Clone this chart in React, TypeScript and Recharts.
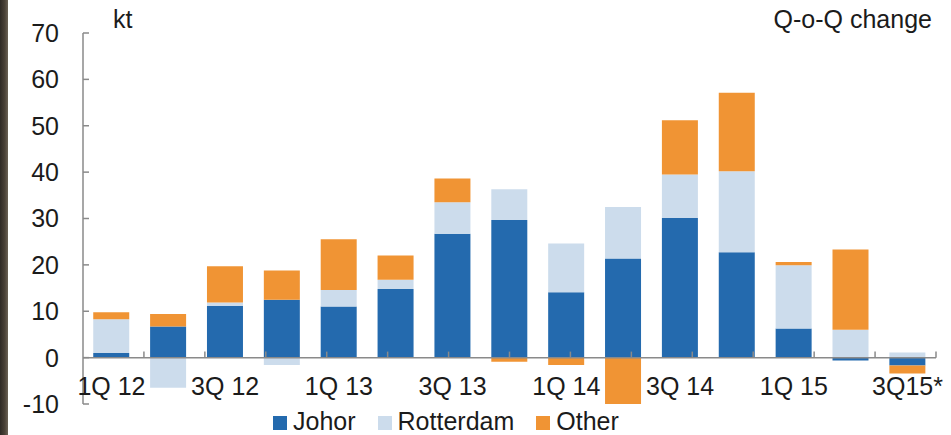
import { BarChart, Bar, XAxis, YAxis, ReferenceLine, Legend } from "recharts";

const QUARTERS = [
  "1Q 12", "2Q 12", "3Q 12", "4Q 12",
  "1Q 13", "2Q 13", "3Q 13", "4Q 13",
  "1Q 14", "2Q 14", "3Q 14", "4Q 14",
  "1Q 15", "2Q 15", "3Q15*",
];
const JOHOR = [1.0, 6.7, 11.2, 12.5, 11.0, 14.8, 26.7, 29.7, 14.1, 21.4, 30.1, 22.7, 6.3, -0.6, -1.7];
const ROTTERDAM = [7.3, -6.5, 0.7, -1.6, 3.6, 2.0, 6.8, 6.6, 10.5, 11.1, 9.4, 17.5, 13.6, 6.0, 1.1];
const OTHER = [1.5, 2.7, 7.8, 6.3, 10.9, 5.2, 5.1, -0.9, -1.6, -10.7, 11.7, 16.9, 0.7, 17.3, -1.7];
const SERIES_NAMES = ["Johor", "Rotterdam", "Other"];
const Y_TICKS = [-10, 0, 10, 20, 30, 40, 50, 60, 70];

const BLUE = "#246aae";
const LIGHT = "#ccdcec";
const ORANGE = "#f09434";
const AXIS = "#8a8a8a";
const TEXT = "#1b1b1b";
const FONT = '"Liberation Sans", Arial, sans-serif';
const FS = 25;

const data = QUARTERS.map((q, i) => ({
  q,
  johor: JOHOR[i],
  rotterdam: ROTTERDAM[i],
  other: OTHER[i],
}));

// tick marks on the zero line sit between the quarters
const boundaries = QUARTERS.map((_, i) => i + 1);

const YTick = (props: any) => {
  const { x, y, payload } = props;
  return (
    <g>
      <text x={x} y={y} dy="0.355em" textAnchor="end" fill={TEXT} fontSize={FS} fontFamily={FONT}>
        {payload.value}
      </text>
      <line x1={x + 24} x2={x + 30} y1={y} y2={y} stroke={AXIS} strokeWidth={1.5} />
    </g>
  );
};

const XTick = (props: any) => {
  const { x, y, payload } = props;
  return (
    <text x={x} y={y} dy={-9} textAnchor="middle" fill={TEXT} fontSize={FS} fontFamily={FONT}>
      {payload.value}
    </text>
  );
};

const renderLegend = (props: any) => {
  const items = [...(props.payload || [])].sort(
    (a: any, b: any) => SERIES_NAMES.indexOf(a.value) - SERIES_NAMES.indexOf(b.value)
  );
  return (
    <div style={{ display: "flex", alignItems: "center", fontFamily: FONT, fontSize: FS, lineHeight: `${FS}px`, color: TEXT }}>
      {items.map((it: any) => (
        <div key={it.value} style={{ display: "flex", alignItems: "center", marginRight: 22 }}>
          <span style={{ display: "inline-block", width: 14, height: 14, background: it.color, marginRight: 6, marginTop: 3 }} />
          <span>{it.value}</span>
        </div>
      ))}
    </div>
  );
};

export default function App() {
  return (
    <div style={{ position: "absolute", top: 0, left: 0, width: 951, height: 435, background: "#fff", overflow: "hidden" }}>
      <div
        style={{
          position: "absolute", left: 0, top: 0, width: 8, height: 435,
          background: "linear-gradient(90deg, #2e2a25 0%, #4a4238 60%, #6b6356 100%)",
        }}
      />
      <div style={{ position: "absolute", left: 113, top: 7, fontFamily: FONT, fontSize: FS, lineHeight: `${FS}px`, color: TEXT }}>
        kt
      </div>
      <div style={{ position: "absolute", right: 19, top: 7, fontFamily: FONT, fontSize: FS, lineHeight: `${FS}px`, color: TEXT }}>
        Q-o-Q change
      </div>
      <BarChart
        width={951}
        height={435}
        data={data}
        stackOffset="sign"
        barCategoryGap="18%"
        margin={{ top: 33, right: 15, left: 0, bottom: 30 }}
      >
        <XAxis
          dataKey="q"
          interval={1}
          axisLine={false}
          tickLine={false}
          tickSize={0}
          tickMargin={0}
          height={1}
          tick={<XTick />}
        />
        <XAxis xAxisId="n" type="number" domain={[0, 15]} hide allowDataOverflow />
        <YAxis
          domain={[-10, 70]}
          ticks={Y_TICKS}
          allowDataOverflow
          width={83}
          axisLine={{ stroke: AXIS, strokeWidth: 1.5 }}
          tickLine={false}
          tickSize={0}
          tickMargin={24}
          tick={<YTick />}
        />
        <Bar dataKey="johor" name="Johor" stackId="a" fill={BLUE} isAnimationActive={false} />
        <Bar dataKey="rotterdam" name="Rotterdam" stackId="a" fill={LIGHT} isAnimationActive={false} />
        <Bar dataKey="other" name="Other" stackId="a" fill={ORANGE} isAnimationActive={false} />
        <ReferenceLine y={0} stroke={AXIS} strokeWidth={1.5} />
        {boundaries.map((b) => (
          <ReferenceLine
            key={b}
            xAxisId="n"
            segment={[{ x: b, y: 0 }, { x: b, y: 1.3 }]}
            stroke={AXIS}
            strokeWidth={1.5}
          />
        ))}
        <Legend
          verticalAlign="middle"
          layout="horizontal"
          wrapperStyle={{ top: 409, left: 273, width: 420 }}
          content={renderLegend}
        />
      </BarChart>
    </div>
  );
}
